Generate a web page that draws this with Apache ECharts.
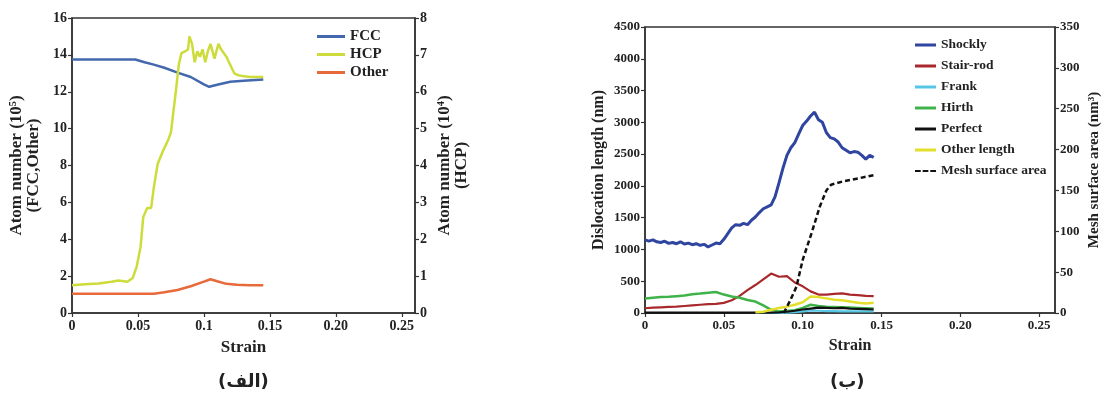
<!DOCTYPE html>
<html>
<head>
<meta charset="utf-8">
<script src="https://cdn.jsdelivr.net/npm/echarts@6/dist/echarts.min.js"></script>
<style>
  html, body { margin: 0; padding: 0; background: #fff; }
  #chart { width: 1103px; height: 394px; }
</style>
</head>
<body>
<div id="chart"></div>
<script>
// --- left panel (الف): atom numbers ---
var fccStrain = [0, 0.048, 0.055, 0.062, 0.07, 0.08, 0.09, 0.1, 0.104, 0.11, 0.12, 0.13, 0.145];
var fccVal = [13.75, 13.75, 13.6, 13.47, 13.3, 13.04, 12.8, 12.4, 12.27, 12.38, 12.54, 12.6, 12.67];

var otherStrain = [0, 0.062, 0.07, 0.08, 0.09, 0.1, 0.105, 0.11, 0.117, 0.125, 0.135, 0.145];
var otherVal = [1.05, 1.05, 1.12, 1.25, 1.45, 1.7, 1.83, 1.72, 1.58, 1.53, 1.5, 1.5];

var hcpStrain = [0, 0.01, 0.02, 0.03, 0.035, 0.042, 0.046, 0.049, 0.052, 0.054,
  0.057, 0.060, 0.062, 0.065, 0.069, 0.073, 0.075, 0.077, 0.079, 0.081,
  0.083, 0.086, 0.088, 0.089, 0.091, 0.093, 0.095, 0.097, 0.099, 0.101,
  0.103, 0.105, 0.108, 0.111, 0.113, 0.117, 0.121, 0.123, 0.126, 0.129,
  0.135, 0.14, 0.145];
var hcpVal = [0.75, 0.78, 0.8, 0.85, 0.88, 0.85, 0.95, 1.25, 1.8, 2.6,
  2.85, 2.85, 3.4, 4.05, 4.4, 4.7, 4.9, 5.5, 6.1, 6.75,
  7.05, 7.1, 7.15, 7.5, 7.3, 6.8, 7.1, 6.95, 7.15, 6.8,
  7.1, 7.3, 6.9, 7.3, 7.15, 6.95, 6.65, 6.5, 6.45, 6.43,
  6.4, 6.4, 6.4];

var leftXLabels = ['0', '0.05', '0.1', '0.15', '0.20', '0.25'];

// --- right panel (ب): dislocation lengths ---
var shocklyStrain = [0, 0.0025, 0.005, 0.0075, 0.01, 0.0125, 0.015, 0.0175, 0.02, 0.0225,
  0.025, 0.0275, 0.03, 0.0325, 0.035, 0.0375, 0.04, 0.0425, 0.045, 0.0475,
  0.05, 0.0525, 0.055, 0.0575, 0.06, 0.0625, 0.065, 0.0675, 0.07, 0.0725,
  0.075, 0.0775, 0.08, 0.0825, 0.085, 0.0875, 0.09, 0.0925, 0.095, 0.0975,
  0.1, 0.1025, 0.105, 0.1075, 0.11, 0.1125, 0.115, 0.1175, 0.12, 0.1225,
  0.125, 0.1275, 0.13, 0.1325, 0.135, 0.1375, 0.14, 0.1425, 0.145];
var shocklyVal = [1150, 1130, 1150, 1120, 1110, 1130, 1095, 1110, 1090, 1120,
  1085, 1100, 1075, 1090, 1065, 1080, 1040, 1070, 1100, 1090,
  1160, 1250, 1340, 1390, 1380, 1410, 1390, 1460, 1510, 1580,
  1640, 1670, 1700, 1830, 2050, 2280, 2480, 2600, 2680, 2820,
  2950, 3020, 3100, 3160, 3040, 3000, 2840, 2760, 2740, 2690,
  2600, 2560, 2520, 2540, 2530, 2480, 2420, 2480, 2450];

var stepStrain = [0, 0.005, 0.01, 0.015, 0.02, 0.025, 0.03, 0.035, 0.04, 0.045,
  0.05, 0.055, 0.06, 0.065, 0.07, 0.075, 0.08, 0.085, 0.09, 0.095,
  0.1, 0.105, 0.11, 0.115, 0.12, 0.125, 0.13, 0.135, 0.14, 0.145];
var stairVal = [75, 85, 90, 95, 100, 110, 120, 130, 140, 145,
  160, 200, 270, 360, 440, 530, 620, 570, 580, 480,
  420, 340, 290, 290, 300, 310, 290, 280, 270, 265];
var hirthVal = [230, 240, 250, 255, 265, 275, 295, 305, 320, 330,
  290, 260, 240, 205, 180, 120, 50, 25, 30, 45,
  80, 130, 110, 100, 95, 90, 85, 80, 75, 70];
var perfectVal = [5, 5, 5, 5, 5, 5, 5, 5, 5, 5,
  5, 5, 5, 5, 5, 5, 5, 10, 20, 35,
  55, 70, 85, 80, 75, 80, 70, 65, 60, 55];

var lateStrain = [0.07, 0.075, 0.08, 0.085, 0.09, 0.095, 0.1, 0.105, 0.11, 0.115,
  0.12, 0.125, 0.13, 0.135, 0.14, 0.145];
var otherLenVal = [10, 20, 50, 80, 100, 130, 170, 260, 250, 230,
  210, 200, 180, 160, 150, 160];
var frankVal = [0, 0, 0, 0, 5, 15, 25, 40, 35, 30,
  30, 25, 25, 25, 25, 25];

var meshStrain = [0.088, 0.092, 0.096, 0.1, 0.1055, 0.1108, 0.115, 0.118, 0.1255, 0.136, 0.1456];
var meshVal = [0, 15, 32, 65, 97, 130, 150, 157, 161, 165, 169];

var rightXLabels = ['0', '0.05', '0.10', '0.15', '0.20', '0.25'];

function pairs(xs, ys) {
  return xs.map(function (x, i) { return [x, ys[i]]; });
}

var serif = '"Liberation Serif", "DejaVu Serif", serif';
var axisLine = { show: true, lineStyle: { color: '#333', width: 1.5 } };
var axisTick = { show: true, inside: false, length: 4, lineStyle: { color: '#333', width: 1.2 } };
var plainNum = function (v) { return String(v); };
var dashIcon = 'path://M0,0H6V2H0Z M8,0H14V2H8Z M16,0H22V2H16Z';

function font(size) {
  return { fontFamily: serif, fontWeight: 'bold', fontSize: size, color: '#222' };
}

function xLabelFmt(labels) {
  return function (v) {
    var k = Math.round(v / 0.05);
    if (Math.abs(v - k * 0.05) > 1e-6) return '';
    return labels[k] || '';
  };
}

function xAxisFor(gridIndex, labels, tickSize, nameSize, gap) {
  return {
    type: 'value', gridIndex: gridIndex, min: 0, max: 0.26, interval: 0.05,
    name: 'Strain', nameLocation: 'middle', nameGap: gap,
    nameTextStyle: font(nameSize),
    axisLine: axisLine, axisTick: axisTick, splitLine: { show: false },
    axisLabel: Object.assign({ margin: 6, formatter: xLabelFmt(labels), showMaxLabel: false }, font(tickSize))
  };
}

function yAxisFor(gridIndex, pos, max, interval, name, gap, tickSize, nameSize) {
  return {
    type: 'value', gridIndex: gridIndex, position: pos, min: 0, max: max, interval: interval,
    name: name, nameLocation: 'middle', nameGap: gap, nameRotate: 90,
    nameTextStyle: Object.assign({ lineHeight: nameSize }, font(nameSize)),
    axisLine: axisLine, axisTick: axisTick, splitLine: { show: false },
    axisLabel: Object.assign({ margin: 5, formatter: plainNum }, font(tickSize))
  };
}

function line(name, color, width, xi, yi, data, extra) {
  return Object.assign({
    name: name, type: 'line', xAxisIndex: xi, yAxisIndex: yi,
    data: data, symbol: 'none', showSymbol: false, silent: true,
    lineStyle: { color: color, width: width }, itemStyle: { color: color },
    animation: false
  }, extra || {});
}

function legendItems(names) {
  return names.map(function (n) {
    return { name: n, icon: n === 'Mesh surface area' ? dashIcon : 'rect' };
  });
}

var chart = echarts.init(document.getElementById('chart'));
chart.setOption({
  backgroundColor: '#fff',
  animation: false,
  grid: [
    { left: 72, right: 688, top: 18, bottom: 81, show: true, borderColor: '#333', borderWidth: 1.5, backgroundColor: 'transparent' },
    { left: 645, right: 45, top: 27, bottom: 81, show: true, borderColor: '#333', borderWidth: 1.5, backgroundColor: 'transparent' }
  ],
  legend: [
    {
      data: legendItems(['FCC', 'HCP', 'Other']), orient: 'vertical', left: 312, top: 24,
      itemWidth: 28, itemHeight: 3, itemGap: 3,
      textStyle: font(15)
    },
    {
      data: legendItems(['Shockly', 'Stair-rod', 'Frank', 'Hirth', 'Perfect', 'Other length', 'Mesh surface area']),
      orient: 'vertical', left: 910, top: 33,
      itemWidth: 21, itemHeight: 3, itemGap: 7,
      textStyle: font(13.5)
    }
  ],
  xAxis: [xAxisFor(0, leftXLabels, 14, 17, 26), xAxisFor(1, rightXLabels, 13, 16, 25)],
  yAxis: [
    yAxisFor(0, 'left', 16, 2, 'Atom number (10\u2075)\n(FCC,Other)', 30, 14, 17),
    yAxisFor(0, 'right', 8, 1, 'Atom number (10\u2074)\n(HCP)', 21, 14, 17),
    yAxisFor(1, 'left', 4500, 500, 'Dislocation length (nm)', 38, 13, 16),
    yAxisFor(1, 'right', 350, 50, 'Mesh surface area (nm\u00b3)', 32, 13, 15)
  ],
  series: [
    line('FCC', '#4468ad', 2.5, 0, 0, pairs(fccStrain, fccVal)),
    line('HCP', '#cddc3a', 2.5, 0, 1, pairs(hcpStrain, hcpVal)),
    line('Other', '#e8693a', 2.5, 0, 0, pairs(otherStrain, otherVal)),

    line('Shockly', '#2f45a0', 3, 1, 2, pairs(shocklyStrain, shocklyVal)),
    line('Stair-rod', '#a8282c', 2.2, 1, 2, pairs(stepStrain, stairVal)),
    line('Frank', '#55c6e4', 2.2, 1, 2, pairs(lateStrain, frankVal)),
    line('Hirth', '#3fb34a', 2.5, 1, 2, pairs(stepStrain, hirthVal)),
    line('Perfect', '#111111', 2.2, 1, 2, pairs(stepStrain, perfectVal)),
    line('Other length', '#e3df2c', 2.5, 1, 2, pairs(lateStrain, otherLenVal)),
    line('Mesh surface area', '#111111', 2.5, 1, 3, pairs(meshStrain, meshVal),
      { lineStyle: { color: '#111111', width: 2.5, type: [5, 3] } })
  ],
  graphic: [
    { type: 'text', left: 218, top: 373, style: { text: '(الف)', font: 'bold 18px "DejaVu Sans", sans-serif', fill: '#222' } },
    { type: 'text', left: 830, top: 373, style: { text: '(ب)', font: 'bold 18px "DejaVu Sans", sans-serif', fill: '#222' } }
  ]
});
</script>
</body>
</html>
